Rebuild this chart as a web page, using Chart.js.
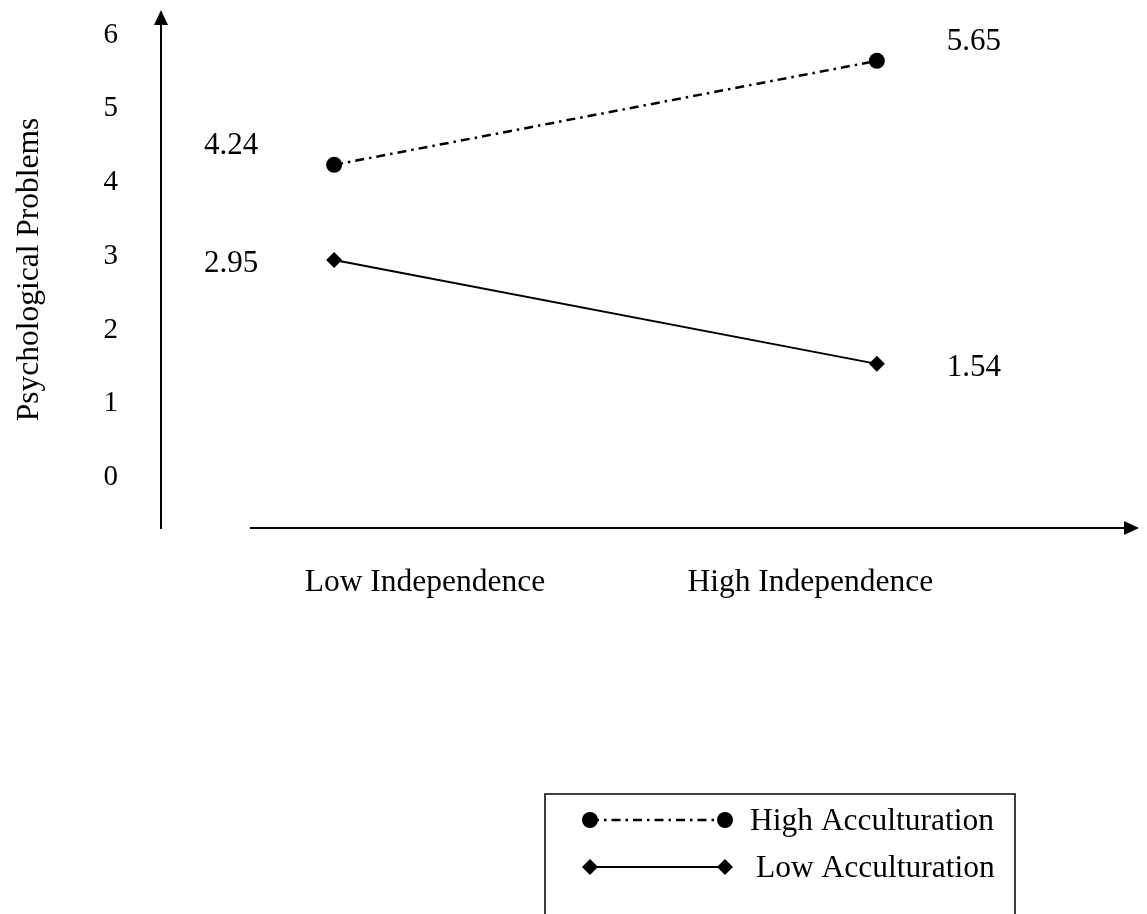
<!DOCTYPE html>
<html>
<head>
<meta charset="utf-8">
<script src="https://cdn.jsdelivr.net/npm/chart.js@4.4.1/dist/chart.umd.min.js"></script>
<style>
  html, body { margin: 0; padding: 0; background: #fff; }
  #wrap { width: 1147px; height: 914px; }
</style>
</head>
<body>
<div id="wrap"><canvas id="chart" width="1147" height="914"></canvas></div>
<script>
// data
const categories = ['Low Independence', 'High Independence'];
const highAcculturation = [4.24, 5.65];
const lowAcculturation = [2.95, 1.54];
const seriesNames = ['High Acculturation', 'Low Acculturation'];
const yTicks = [0, 1, 2, 3, 4, 5, 6];
const yTitle = 'Psychological Problems';

const FONT = 'Liberation Serif';
Chart.defaults.font.family = FONT;
Chart.defaults.color = '#000';

function toPoints(values) {
  return values.map((v, i) => ({ x: i, y: v }));
}

// axis lines with arrow heads
const axesPlugin = {
  id: 'axes',
  beforeDatasetsDraw(chart) {
    const { ctx, chartArea: a } = chart;
    ctx.save();
    ctx.strokeStyle = '#000';
    ctx.fillStyle = '#000';
    ctx.lineWidth = 2;
    // vertical
    ctx.beginPath();
    ctx.moveTo(a.left, a.bottom);
    ctx.lineTo(a.left, a.top + 12);
    ctx.stroke();
    ctx.beginPath();
    ctx.moveTo(a.left, a.top);
    ctx.lineTo(a.left - 7, a.top + 15);
    ctx.lineTo(a.left + 7, a.top + 15);
    ctx.closePath();
    ctx.fill();
    // horizontal
    ctx.beginPath();
    ctx.moveTo(a.left + 89, a.bottom - 1);
    ctx.lineTo(a.right - 12, a.bottom - 1);
    ctx.stroke();
    ctx.beginPath();
    ctx.moveTo(a.right, a.bottom - 1);
    ctx.lineTo(a.right - 15, a.bottom - 8);
    ctx.lineTo(a.right - 15, a.bottom + 6);
    ctx.closePath();
    ctx.fill();
    ctx.restore();
  }
};

// value labels beside the points
const valueLabels = {
  id: 'valueLabels',
  afterDatasetsDraw(chart) {
    const { ctx } = chart;
    ctx.save();
    ctx.font = '31px ' + FONT;
    ctx.fillStyle = '#000';
    ctx.textAlign = 'center';
    ctx.textBaseline = 'middle';
    chart.data.datasets.forEach((ds, di) => {
      const meta = chart.getDatasetMeta(di);
      meta.data.forEach((pt, i) => {
        const dx = i === 0 ? -103 : 97;
        const dy = di === 0 ? -19 : 4;
        ctx.fillText(ds.data[i].y.toFixed(2), pt.x + dx, pt.y + dy);
      });
    });
    ctx.restore();
  }
};

// boxed legend at the bottom
const boxLegend = {
  id: 'boxLegend',
  afterDraw(chart) {
    const { ctx } = chart;
    ctx.save();
    ctx.strokeStyle = '#000';
    ctx.lineWidth = 1.5;
    ctx.strokeRect(545, 794, 470, 200);
    chart.data.datasets.forEach((ds, di) => {
      const y = 820 + di * 47;
      const x1 = 590, x2 = 725;
      ctx.lineWidth = ds.borderWidth;
      ctx.setLineDash(ds.borderDash || []);
      ctx.beginPath();
      ctx.moveTo(x1, y);
      ctx.lineTo(x2, y);
      ctx.stroke();
      ctx.setLineDash([]);
      ctx.fillStyle = '#000';
      [x1, x2].forEach(x => {
        ctx.beginPath();
        if (ds.pointStyle === 'circle') {
          ctx.arc(x, y, 8, 0, Math.PI * 2);
        } else {
          ctx.moveTo(x, y - 8);
          ctx.lineTo(x + 8, y);
          ctx.lineTo(x, y + 8);
          ctx.lineTo(x - 8, y);
          ctx.closePath();
        }
        ctx.fill();
      });
      ctx.font = '31.5px ' + FONT;
      ctx.textAlign = 'left';
      ctx.textBaseline = 'middle';
      ctx.fillText(ds.label, di === 0 ? 750 : 756, y + 2);
    });
    ctx.restore();
  }
};

new Chart(document.getElementById('chart').getContext('2d'), {
  type: 'line',
  data: {
    datasets: [
      {
        label: seriesNames[0],
        data: toPoints(highAcculturation),
        borderColor: '#000',
        backgroundColor: '#000',
        borderWidth: 2.5,
        borderDash: [9, 5, 2.5, 5],
        pointStyle: 'circle',
        pointRadius: 8,
        pointBorderWidth: 0,
        pointBackgroundColor: '#000',
        xAxisID: 'x'
      },
      {
        label: seriesNames[1],
        data: toPoints(lowAcculturation),
        borderColor: '#000',
        backgroundColor: '#000',
        borderWidth: 2,
        pointStyle: 'rectRot',
        pointRadius: 8,
        pointBorderWidth: 0,
        pointBackgroundColor: '#000',
        xAxisID: 'x'
      }
    ]
  },
  options: {
    responsive: false,
    animation: false,
    layout: { padding: { top: 10, right: 4, bottom: 0, left: 0 } },
    plugins: {
      legend: { display: false },
      tooltip: { enabled: false }
    },
    scales: {
      x: {
        type: 'linear',
        display: false,
        min: -0.319,
        max: 1.483
      },
      xLab: {
        type: 'linear',
        position: 'bottom',
        min: -0.685,
        max: 1.853,
        grid: { display: false, drawTicks: false },
        border: { display: false },
        afterBuildTicks: s => { s.ticks = categories.map((c, i) => ({ value: i })); },
        afterFit: s => {
          s.height = 385;
          s.paddingLeft = 0; s.paddingRight = 0; s.paddingTop = 0; s.paddingBottom = 0;
        },
        ticks: {
          autoSkip: false,
          maxRotation: 0,
          padding: 35,
          font: { size: 31.5 },
          callback: v => categories[v]
        }
      },
      y: {
        type: 'linear',
        min: -0.7,
        max: 6.34,
        grid: { display: false, drawTicks: false },
        border: { display: false },
        afterBuildTicks: s => { s.ticks = yTicks.map(v => ({ value: v })); },
        afterFit: s => {
          s.width = 161;
          s.paddingLeft = 0; s.paddingRight = 0; s.paddingTop = 0; s.paddingBottom = 0;
        },
        ticks: {
          padding: 43,
          font: { size: 29 }
        },
        title: {
          display: true,
          text: yTitle,
          font: { size: 31.5 },
          padding: { top: 11, bottom: 0 }
        }
      }
    }
  },
  plugins: [axesPlugin, valueLabels, boxLegend]
});
</script>
</body>
</html>
